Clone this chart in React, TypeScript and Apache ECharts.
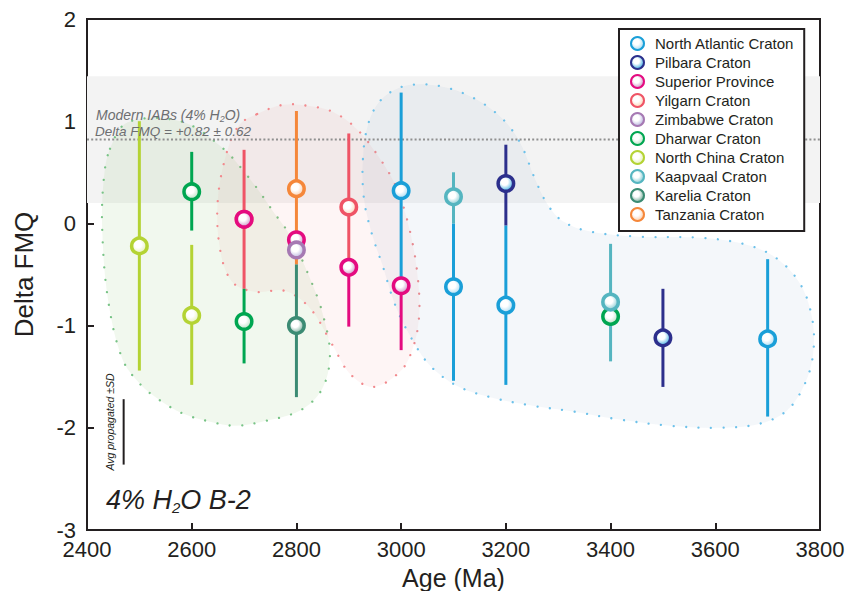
import React, { useEffect, useRef } from "react";
import * as echarts from "echarts";

// ---------------- data ----------------
// each row: [age (Ma), Delta FMQ, lower end of ±SD bar, upper end of ±SD bar]
const northAtlantic = [
  [3000, 0.32, -0.61, 1.28],
  [3100, -0.62, -1.54, 0.0],
  [3200, -0.8, -1.58, -0.02],
  [3700, -1.13, -1.89, -0.35],
];
const pilbara = [
  [3200, 0.39, -0.02, 0.77],
  [3500, -1.12, -1.6, -0.64],
];
const superior = [
  [2700, 0.04, 0.04, 0.04],
  [2800, -0.16, -0.16, -0.16],
  [2900, -0.43, -1.01, -0.43],
  [3000, -0.61, -1.24, -0.61],
];
const yilgarn = [
  [2700, 0.04, -0.64, 0.72],
  [2900, 0.16, -0.43, 0.88],
];
const zimbabwe = [[2800, -0.26, -0.26, -0.26]];
const dharwar = [
  [2600, 0.31, -0.07, 0.7],
  [2700, -0.96, -1.37, -0.64],
  [3400, -0.91, -0.91, -0.91],
];
const northChina = [
  [2500, -0.22, -1.44, 1.0],
  [2600, -0.9, -1.58, -0.21],
];
const kaapvaal = [
  [3100, 0.26, 0.0, 0.5],
  [3400, -0.77, -1.35, -0.2],
];
const karelia = [[2800, -1.0, -1.7, -0.4]];
const tanzania = [[2800, 0.34, -0.4, 1.1]];

const LEGEND_ORDER = [
  "North Atlantic Craton",
  "Pilbara Craton",
  "Superior Province",
  "Yilgarn Craton",
  "Zimbabwe Craton",
  "Dharwar Craton",
  "North China Craton",
  "Kaapvaal Craton",
  "Karelia Craton",
  "Tanzania Craton",
];

// axes
const X_MIN = 2400;
const X_MAX = 3800;
const X_STEP = 200;
const Y_MIN = -3;
const Y_MAX = 2;
const Y_STEP = 1;

// modern IAB reference: Delta FMQ = +0.82 ± 0.62
const IAB_MEAN = 0.82;
const IAB_SD = 0.62;

// average propagated ±SD scale bar
const AVG_SD = 0.64;
const SD_BAR_AGE = 2470;
const SD_BAR_TOP = -1.72;

// outlines of the craton groupings [age, Delta FMQ]
const greenZone = [
  [2444, 0.73], [2478, 0.99], [2578, 1.0], [2654, 0.76], [2712, 0.43],
  [2755, 0.12], [2788, -0.12], [2826, -0.54], [2851, -0.9], [2864, -1.29],
  [2849, -1.62], [2807, -1.83], [2734, -1.94], [2683, -1.98], [2635, -1.94],
  [2583, -1.86], [2539, -1.73], [2501, -1.57], [2467, -1.32], [2440, -0.74],
  [2429, -0.05], [2432, 0.43],
];
const pinkZone = [
  [2725, 1.07], [2774, 1.16], [2822, 1.15], [2870, 1.09], [2916, 0.92],
  [2960, 0.63], [2992, 0.34], [3017, -0.08], [3032, -0.54], [3034, -0.93],
  [3021, -1.24], [2998, -1.45], [2946, -1.6], [2902, -1.47], [2870, -1.2],
  [2826, -0.83], [2778, -0.66], [2721, -0.67], [2677, -0.57], [2654, -0.25],
  [2650, 0.24], [2669, 0.73], [2692, 0.97],
];
const blueZone = [
  [2927, 0.63], [2937, 0.97], [2960, 1.2], [2998, 1.33], [3046, 1.36],
  [3093, 1.32], [3141, 1.22], [3179, 1.09], [3208, 0.94], [3231, 0.75],
  [3256, 0.43], [3279, 0.19], [3309, 0.02], [3361, -0.08], [3456, -0.13],
  [3571, -0.14], [3653, -0.2], [3714, -0.33], [3762, -0.59], [3785, -0.93],
  [3787, -1.27], [3771, -1.57], [3737, -1.83], [3685, -1.96], [3609, -2.0],
  [3513, -1.98], [3418, -1.92], [3328, -1.84], [3246, -1.78], [3170, -1.7],
  [3107, -1.59], [3055, -1.39], [3017, -1.1], [2988, -0.79], [2965, -0.42],
  [2944, -0.1], [2929, 0.24],
];

// ---------------- styles ----------------
const STYLE: Record<string, { line: string; tint: string }> = {
  "North Atlantic Craton": { line: "#1a9fd8", tint: "#a3d8f1" },
  "Pilbara Craton": { line: "#2c2f8c", tint: "#33a9e0" },
  "Superior Province": { line: "#e40b80", tint: "#c98fc3" },
  "Yilgarn Craton": { line: "#ef5466", tint: "#fbd3b4" },
  "Zimbabwe Craton": { line: "#a679b3", tint: "#b5b0dc" },
  "Dharwar Craton": { line: "#00a651", tint: "#b5dec0" },
  "North China Craton": { line: "#b4d334", tint: "#e4f0b2" },
  "Kaapvaal Craton": { line: "#55b5c0", tint: "#7fc8d0" },
  "Karelia Craton": { line: "#3b8b73", tint: "#74aa97" },
  "Tanzania Craton": { line: "#f5873a", tint: "#fbcaa5" },
};

// drawing order (later ones lie on top)
const CRATONS = [
  { name: "North Atlantic Craton", data: northAtlantic },
  { name: "Pilbara Craton", data: pilbara },
  { name: "Yilgarn Craton", data: yilgarn },
  { name: "Superior Province", data: superior },
  { name: "Zimbabwe Craton", data: zimbabwe },
  { name: "Dharwar Craton", data: dharwar },
  { name: "North China Craton", data: northChina },
  { name: "Kaapvaal Craton", data: kaapvaal },
  { name: "Karelia Craton", data: karelia },
  { name: "Tanzania Craton", data: tanzania },
];

const ZONES = [
  { pts: greenZone, fill: "rgba(142,195,115,0.12)", stroke: "#78c386" },
  { pts: pinkZone, fill: "rgba(235,110,110,0.07)", stroke: "#f2898d" },
  { pts: blueZone, fill: "rgba(120,150,190,0.08)", stroke: "#6cc1ea" },
];

const FONT = "'Liberation Sans', Arial, sans-serif";
const INK = "#231f20";

export default function App() {
  const ref = useRef<HTMLDivElement>(null);

  useEffect(() => {
    if (!ref.current) return;
    const chart = echarts.init(ref.current, undefined, { renderer: "svg" });

    const background = {
      type: "custom",
      name: "zones",
      silent: true,
      z: 1,
      data: [[X_MIN, 0]],
      encode: { x: 0, y: 1 },
      renderItem: (_p: any, api: any) => {
        const b1 = api.coord([X_MIN, IAB_MEAN + IAB_SD]);
        const b2 = api.coord([X_MAX, IAB_MEAN - IAB_SD]);
        const l1 = api.coord([X_MIN, IAB_MEAN]);
        const l2 = api.coord([X_MAX, IAB_MEAN]);
        const s1 = api.coord([SD_BAR_AGE, SD_BAR_TOP]);
        const s2 = api.coord([SD_BAR_AGE, SD_BAR_TOP - AVG_SD]);
        const children: any[] = [
          {
            type: "rect",
            shape: { x: b1[0], y: b1[1], width: b2[0] - b1[0], height: b2[1] - b1[1] },
            style: { fill: "#f3f3f3" },
          },
        ];
        ZONES.forEach((z) => {
          children.push({
            type: "polygon",
            shape: { points: z.pts.map((p) => api.coord(p)), smooth: 0.35 },
            style: {
              fill: z.fill,
              stroke: z.stroke,
              lineWidth: 2.3,
              lineDash: [0.01, 12.5],
              lineCap: "round",
            },
          });
        });
        children.push({
          type: "line",
          shape: { x1: l1[0], y1: l1[1], x2: l2[0], y2: l2[1] },
          style: { stroke: "#8f8f8f", lineWidth: 2, lineDash: [2, 2.2] },
        });
        children.push({
          type: "line",
          shape: { x1: s1[0], y1: s1[1], x2: s2[0], y2: s2[1] },
          style: { stroke: INK, lineWidth: 2 },
        });
        return { type: "group", children };
      },
    };

    const barSeries = CRATONS.map((c) => ({
      type: "custom",
      name: c.name + " SD",
      silent: true,
      z: 2,
      data: c.data,
      encode: { x: 0, y: 1 },
      renderItem: (_p: any, api: any) => {
        const x = api.value(0);
        const lo = api.value(2);
        const hi = api.value(3);
        if (lo === hi) return { type: "group", children: [] };
        const a = api.coord([x, lo]);
        const b = api.coord([x, hi]);
        return {
          type: "line",
          shape: { x1: a[0], y1: a[1], x2: b[0], y2: b[1] },
          style: { stroke: STYLE[c.name].line, lineWidth: 3 },
        };
      },
    }));

    const pointSeries = CRATONS.map((c) => ({
      type: "scatter",
      name: c.name,
      z: 3,
      symbol: "circle",
      symbolSize: 15.5,
      data: c.data.map((d) => [d[0], d[1]]),
      itemStyle: {
        color: new echarts.graphic.RadialGradient(0.42, 0.4, 0.62, [
          { offset: 0, color: "#ffffff" },
          { offset: 0.35, color: "#ffffff" },
          { offset: 1, color: STYLE[c.name].tint },
        ]),
        borderColor: STYLE[c.name].line,
        borderWidth: 3.5,
        opacity: 1,
      },
    }));

    const sub = (size: number) => ({
      fontSize: size,
      fontStyle: "italic",
      fontFamily: FONT,
      verticalAlign: "bottom",
    });

    chart.setOption({
      animation: false,
      backgroundColor: "#ffffff",
      textStyle: { fontFamily: FONT },
      grid: {
        left: 87,
        right: 26,
        top: 19,
        bottom: 61,
        show: true,
        borderColor: INK,
        borderWidth: 2,
        backgroundColor: "transparent",
        containLabel: false,
        outerBoundsMode: "none",
      },
      xAxis: {
        type: "value",
        min: X_MIN,
        max: X_MAX,
        interval: X_STEP,
        name: "Age (Ma)",
        nameLocation: "middle",
        nameGap: 33,
        nameTextStyle: { fontSize: 25, lineHeight: 26, color: INK, fontFamily: FONT },
        axisLine: { onZero: false, lineStyle: { color: INK, width: 2 } },
        axisTick: { inside: true, length: 7, lineStyle: { color: INK, width: 2 } },
        axisLabel: {
          fontSize: 22,
          lineHeight: 18,
          color: INK,
          margin: 10,
          fontFamily: FONT,
          formatter: (v: number) => String(v),
        },
        splitLine: { show: false },
      },
      yAxis: {
        type: "value",
        min: Y_MIN,
        max: Y_MAX,
        interval: Y_STEP,
        name: "Delta FMQ",
        nameLocation: "middle",
        nameGap: 50,
        nameTextStyle: { fontSize: 26, color: INK, fontFamily: FONT },
        axisLine: { onZero: false, lineStyle: { color: INK, width: 2 } },
        axisTick: { inside: true, length: 7, lineStyle: { color: INK, width: 2 } },
        axisLabel: {
          fontSize: 22,
          lineHeight: 18,
          color: INK,
          margin: 11,
          fontFamily: FONT,
          formatter: (v: number) => String(v),
        },
        splitLine: { show: false },
      },
      legend: {
        data: LEGEND_ORDER,
        orient: "vertical",
        left: 619,
        top: 29,
        padding: [7, 10, 9, 11],
        itemGap: 4,
        itemWidth: 13,
        itemHeight: 13,
        borderColor: INK,
        borderWidth: 2,
        backgroundColor: "#ffffff",
        selectedMode: false,
        textStyle: { fontSize: 15, color: INK, fontFamily: FONT, padding: [0, 0, 0, 6] },
      },
      graphic: [
        {
          type: "text",
          x: 96,
          y: 115,
          z: 10,
          style: {
            text: "Modern IABs (4% H{s|2}O)",
            fontSize: 14,
            fontStyle: "italic",
            fontFamily: FONT,
            fill: "#6d6e71",
            lineHeight: 16,
            verticalAlign: "middle",
            rich: { s: { ...sub(9), fill: "#6d6e71" } },
          },
        },
        {
          type: "text",
          x: 95,
          y: 131,
          z: 10,
          style: {
            text: "Delta FMQ = +0.82 ± 0.62",
            fontSize: 13.5,
            fontStyle: "italic",
            fontFamily: FONT,
            fill: "#6d6e71",
            verticalAlign: "middle",
          },
        },
        {
          type: "text",
          x: 110,
          y: 422,
          rotation: Math.PI / 2,
          z: 10,
          style: {
            text: "Avg propagated ±SD",
            fontSize: 10.5,
            fontStyle: "italic",
            fontFamily: FONT,
            fill: INK,
            align: "center",
            verticalAlign: "middle",
          },
        },
        {
          type: "text",
          x: 106,
          y: 500,
          z: 10,
          style: {
            text: "4% H{s|2}O B-2",
            fontSize: 27,
            fontStyle: "italic",
            fontFamily: FONT,
            fill: INK,
            lineHeight: 30,
            verticalAlign: "middle",
            rich: { s: { ...sub(15), fill: INK } },
          },
        },
      ],
      series: [background, ...barSeries, ...pointSeries],
    });

    return () => chart.dispose();
  }, []);

  return (
    <div
      ref={ref}
      style={{ position: "fixed", left: 0, top: 0, width: 846, height: 591 }}
    />
  );
}
